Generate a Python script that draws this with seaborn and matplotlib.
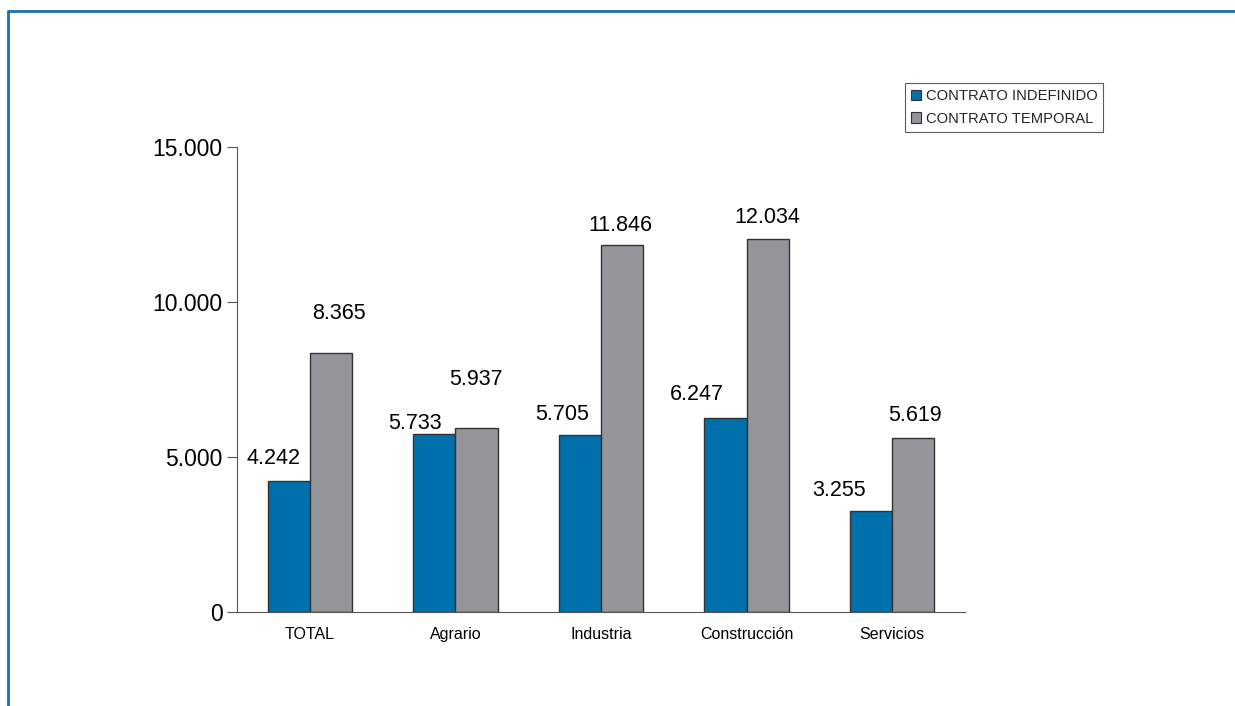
import matplotlib
matplotlib.use("Agg")
import matplotlib.pyplot as plt
from matplotlib.lines import Line2D
import seaborn as sns
import pandas as pd
import numpy as np

# Sectors and monthly amounts by contract type
sectors = ["TOTAL", "Agrario", "Industria", "Construcción", "Servicios"]
indefinido = [4242, 5733, 5705, 6247, 3255]
temporal = [8365, 5937, 11846, 12034, 5619]
series_names = ["CONTRATO INDEFINIDO", "CONTRATO TEMPORAL"]
y_ticks = [0, 5000, 10000, 15000]
y_tick_labels = ["0", "5.000", "10.000", "15.000"]

# Label nudges (pixels) for each bar's value text
dx_ind = [-15, -19, -18, -29, -32]
dy_ind = [22, 11, 21, 24, 21]
dx_tem = [8, -1, -2, 0, 2]
dy_tem = [39, 48, 19, 21, 22]

colors = ["#0070AD", "#939598"]

sns.set_style("white")
plt.rcParams["font.family"] = ["Liberation Sans", "DejaVu Sans"]

df = pd.DataFrame({
    "sector": sectors * 2,
    "valor": indefinido + temporal,
    "tipo": [series_names[0]] * len(sectors) + [series_names[1]] * len(sectors),
})

fig = plt.figure(figsize=(12.35, 7.06), dpi=100)
ax = fig.add_axes([0.1919, 0.1331, 0.5895, 0.6587])

sns.barplot(data=df, x="sector", y="valor", hue="tipo", order=sectors,
            hue_order=series_names, palette=colors, width=0.58, gap=0,
            edgecolor="#333333", linewidth=1.0, saturation=1, ax=ax,
            legend=False)

ax.set_xlim(-0.5, len(sectors) - 0.5)
ax.set_ylim(0, 15000)
ax.set_yticks(y_ticks)
ax.set_yticklabels(y_tick_labels, fontsize=16.5, color="black")
ax.set_xlabel("")
ax.set_ylabel("")
ax.tick_params(axis="x", length=0, labelsize=11.5, labelcolor="black", pad=11)
ax.set_xticks(np.arange(-0.5, len(sectors)), minor=True)
ax.tick_params(axis="x", which="minor", direction="out", length=4,
               color="#555555", width=0.8)
ax.tick_params(axis="y", direction="out", length=7, color="#555555",
               width=0.8, pad=3.5, left=True)
for side in ["top", "right"]:
    ax.spines[side].set_visible(False)
for side in ["left", "bottom"]:
    ax.spines[side].set_color("#555555")
    ax.spines[side].set_linewidth(0.8)

# Value labels
containers = ax.containers
for cont, vals, dxs, dys in [(containers[0], indefinido, dx_ind, dy_ind),
                             (containers[1], temporal, dx_tem, dy_tem)]:
    for bar, v, dx, dy in zip(cont, vals, dxs, dys):
        xc = bar.get_x() + bar.get_width() / 2
        ax.annotate(f"{v:,}".replace(",", "."), (xc, v), xytext=(dx, dy),
                    textcoords="offset pixels", ha="center", va="center",
                    fontsize=15.5, color="black")

# Legend
handles = [plt.Rectangle((0, 0), 1, 1, facecolor=c, edgecolor="#333333",
                         linewidth=0.8) for c in colors]
leg = fig.legend(handles, series_names, loc="upper left",
                 bbox_to_anchor=(905 / 1235, 1 - 83 / 706), fontsize=10.6,
                 frameon=True, fancybox=False, edgecolor="#333333",
                 handlelength=0.7, handleheight=0.7, handletextpad=0.3,
                 borderpad=0.4, labelspacing=0.6, borderaxespad=0)
leg.get_frame().set_linewidth(0.8)

# Outer frame lines along top and left
fig.add_artist(Line2D([8 / 1235, 1], [1 - 11 / 706, 1 - 11 / 706],
                      transform=fig.transFigure, color="#1F6FAF", linewidth=2))
fig.add_artist(Line2D([8 / 1235, 8 / 1235], [0, 1 - 11 / 706],
                      transform=fig.transFigure, color="#1F6FAF", linewidth=2))

fig.savefig("out.png", dpi=100)
